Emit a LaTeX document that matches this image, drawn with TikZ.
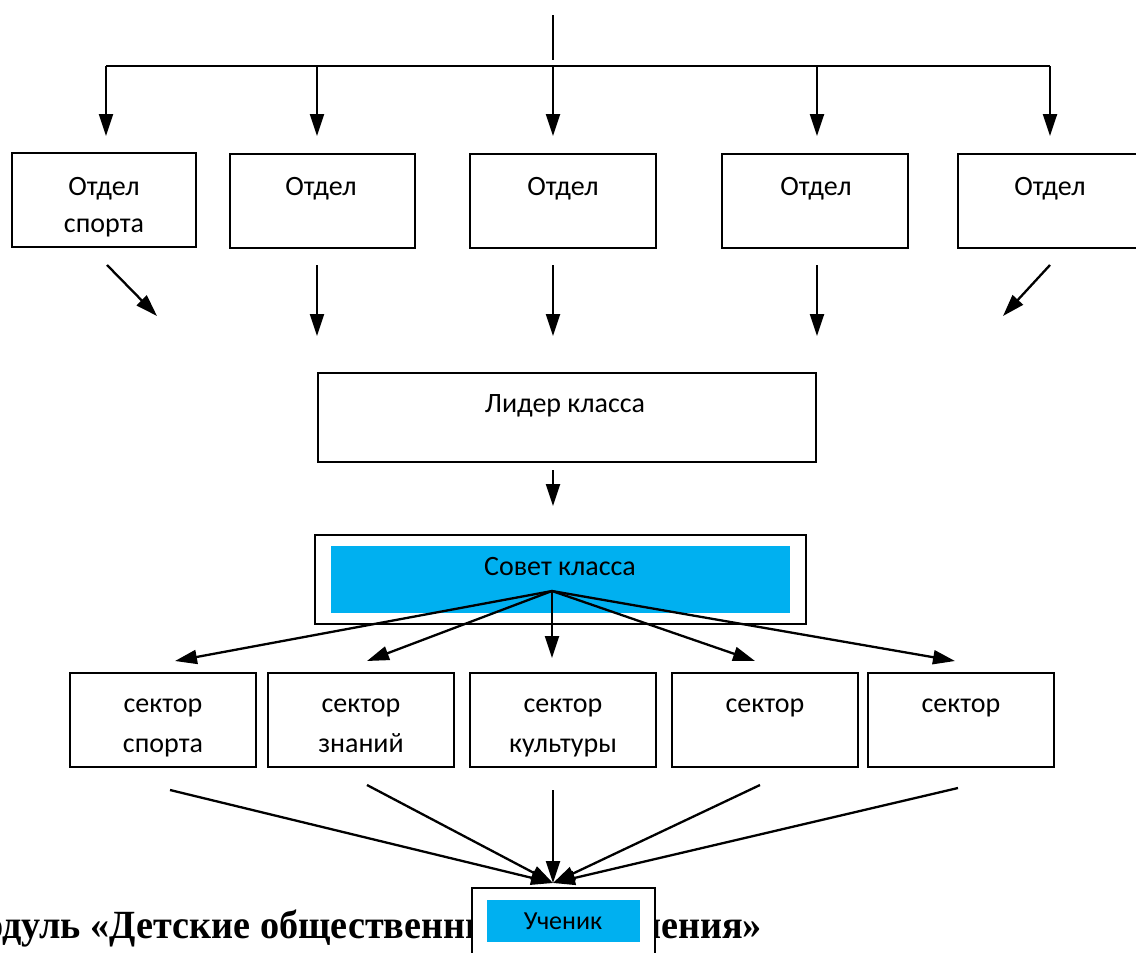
\documentclass[tikz,border=0pt]{standalone}
\usepackage{fontspec}
\usepackage{graphicx}
\setmainfont{Carlito}
\newfontfamily\headfont{Liberation Serif}
\usetikzlibrary{arrows.meta,fit}
\definecolor{skyb}{HTML}{00B0F0}
\begin{document}
\begin{tikzpicture}[x=1pt,y=-1pt,
  box/.style={draw,line width=1.9pt,fill=white,inner sep=0pt},
  blue/.style={fill=skyb,draw=none,inner sep=0pt},
  lbl/.style={font=\fontsize{28}{33}\selectfont,inner sep=0pt,anchor=base},
  clbl/.style={font=\fontsize{28}{33}\selectfont,inner sep=0pt,anchor=base},
  arr/.style={line width=2.3pt,-{Triangle[length=22pt,width=14pt]}},
  ]
\useasboundingbox (0,0) rectangle (1136,953);
\clip (0,0) rectangle (1136,953);
\fill[white] (0,0) rectangle (1136,953);

% top distribution line
\coordinate (top) at (553,15);
\coordinate (mid) at (553,60);
\draw[line width=1.4pt] (top) -- (mid);
\foreach \i/\x in {1/106,2/317,3/553,4/817,5/1050}{
  \coordinate (b\i) at (\x,66);
  \coordinate (e\i) at (\x,136);
}
\draw[line width=2.3pt] (b1) -- (b5);
\foreach \i in {1,...,5}{ \draw[arr] (b\i) -- (e\i); }

% department boxes
\node[box,fit={(12,153) (196,247)}] (o1) {};
\node[box,fit={(230,154) (415,248)}] (o2) {};
\node[box,fit={(470,154) (656,248)}] (o3) {};
\node[box,fit={(722,154) (908,248)}] (o4) {};
\node[box,fit={(958,154) (1144,248)}] (o5) {};
\node[lbl] (o1a) at (104,195) {Отдел};
\node[lbl] (o1b) at (104,232) {спорта};
\node[lbl] (o2a) at (321,195) {Отдел};
\node[lbl] (o3a) at (563,195) {Отдел};
\node[lbl] (o4a) at (816,195) {Отдел};
\node[lbl] (o5a) at (1050,195) {Отдел};

% arrows to leader
\coordinate (s1) at (107,265); \coordinate (t1) at (157,316);
\coordinate (s2) at (317,265); \coordinate (t2) at (317,336);
\coordinate (s3) at (553,265); \coordinate (t3) at (553,336);
\coordinate (s4) at (817,265); \coordinate (t4) at (817,336);
\coordinate (s5) at (1050,265); \coordinate (t5) at (1003,316);
\foreach \i in {1,...,5}{ \draw[arr] (s\i) -- (t\i); }

% leader
\node[box,fit={(318,373) (816,462)}] (lead) {};
\node[clbl] (leadt) at (565,412) {Лидер класса};
\coordinate (l1) at (553,470); \coordinate (l2) at (553,506);
\draw[arr] (l1) -- (l2);

% council
\node[box,fit={(315,535) (806,624)}] (sov) {};
\node[blue,fit={(331,546) (790,613)}] (sovin) {};
\node[clbl] (sovt) at (560,575) {Совет класса};
\coordinate (fan) at (552,591);

% sector boxes
\node[box,fit={(70,673) (256,767)}] (c1) {};
\node[box,fit={(268,673) (454,767)}] (c2) {};
\node[box,fit={(470,673) (656,767)}] (c3) {};
\node[box,fit={(672,673) (858,767)}] (c4) {};
\node[box,fit={(868,673) (1054,767)}] (c5) {};
\node[lbl] (c1a) at (163,712) {сектор};
\node[lbl] (c1b) at (163,752) {спорта};
\node[lbl] (c2a) at (361,712) {сектор};
\node[lbl] (c2b) at (361,752) {знаний};
\node[lbl] (c3a) at (563,712) {сектор};
\node[lbl] (c3b) at (563,752) {культуры};
\node[lbl] (c4a) at (765,712) {сектор};
\node[lbl] (c5a) at (961,712) {сектор};

% fan arrows
\coordinate (f1) at (175,661);
\coordinate (f2) at (367,661);
\coordinate (f3) at (552,658);
\coordinate (f4) at (755,661);
\coordinate (f5) at (955,661);
\foreach \i in {1,...,5}{ \draw[arr] (fan) -- (f\i); }

% converging arrows
\coordinate (u1) at (170,790);
\coordinate (u2) at (367,785);
\coordinate (u3) at (553,790);
\coordinate (u4) at (760,785);
\coordinate (u5) at (958,788);
\coordinate (pup) at (553,883);
\foreach \i in {1,...,5}{ \draw[arr] (u\i) -- (pup); }

% heading behind pupil box
\node[font=\headfont\bfseries\fontsize{40}{48}\selectfont,anchor=base east,inner sep=0pt] (head) at (762,938) {\scalebox{0.955}[1]{Модуль «Детские общественные объединения»}};

% pupil
\node[box,fit={(472,888) (655,975)}] (uch) {};
\node[blue,fit={(487,900) (640,942)}] (uchin) {};
\node[font=\fontsize{26}{30}\selectfont,inner sep=0pt,anchor=base] (ucht) at (563,929) {Ученик};
\end{tikzpicture}
\end{document}
